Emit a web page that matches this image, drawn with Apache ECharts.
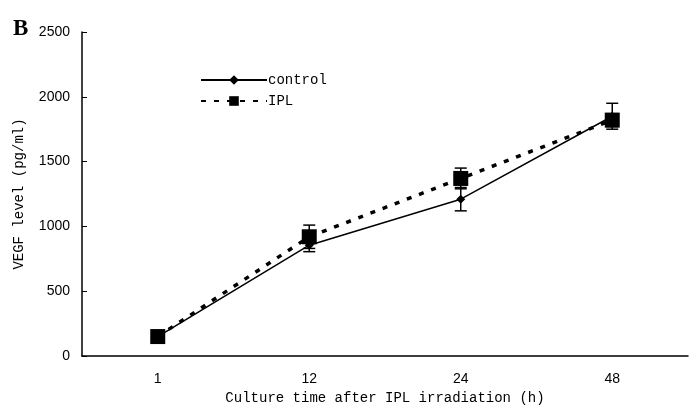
<!DOCTYPE html>
<html>
<head>
<meta charset="utf-8">
<script src="https://cdn.jsdelivr.net/npm/echarts@6/dist/echarts.min.js"></script>
<style>
  html, body { margin: 0; padding: 0; background: #fff; }
  #box { width: 697px; height: 410px; }
</style>
</head>
<body>
<div id="box"></div>
<script>
const aHours = ['1', '12', '24', '48'];
const aControl = [150, 855, 1210, 1850];
const aControlErr = [20, 50, 90, 100];
const aIPL = [150, 920, 1370, 1820];
const aIPLErr = [20, 90, 80, 50];
const aYTicks = [0, 500, 1000, 1500, 2000, 2500];

const sMono = '"Liberation Mono", "DejaVu Sans Mono", monospace';
const sSans = '"Liberation Sans", Arial, sans-serif';

function errData(aVal, aErr){
    return aVal.map((v, i) => [i, v - aErr[i], v + aErr[i]]);
}

function errSeries(name, aVal, aErr){
    return {
        name: name + '_err',
        type: 'custom',
        z: 1,
        silent: true,
        renderItem(params, api){
            const x = api.value(0);
            const pLow = api.coord([x, api.value(1)]);
            const pHigh = api.coord([x, api.value(2)]);
            const cx = pLow[0];
            const half = 6;
            const st = { stroke: '#000', lineWidth: 1.5 };
            return {
                type: 'group',
                children: [
                    { type: 'line', shape: { x1: cx, y1: pLow[1], x2: cx, y2: pHigh[1] }, style: st },
                    { type: 'line', shape: { x1: cx - half, y1: pLow[1], x2: cx + half, y2: pLow[1] }, style: st },
                    { type: 'line', shape: { x1: cx - half, y1: pHigh[1], x2: cx + half, y2: pHigh[1] }, style: st },
                ]
            };
        },
        encode: { x: 0, y: [1, 2] },
        data: errData(aVal, aErr),
    };
}

const myChart = echarts.init(document.getElementById('box'));
myChart.setOption({
    animation: false,
    graphic: [{
        type: 'text', left: 13, top: 18,
        style: { text: 'B', font: 'bold 23px "Liberation Serif", "Times New Roman", serif', fill: '#000' }
    }],
    legend: {
        orient: 'vertical',
        left: 195,
        top: 68,
        itemWidth: 66,
        itemHeight: 12,
        itemGap: 7,
        data: ['control', 'IPL'],
        textStyle: { fontFamily: sMono, fontSize: 14, color: '#000', padding: [0, 0, 0, -4] },
    },
    grid: { left: 82, right: 9, top: 32, bottom: 54 },
    xAxis: {
        type: 'category',
        data: aHours,
        boundaryGap: true,
        name: 'Culture time after IPL irradiation (h)',
        nameLocation: 'middle',
        nameGap: 31,
        nameTextStyle: { fontFamily: sMono, fontSize: 14, color: '#000' },
        axisLine: { lineStyle: { color: '#000', width: 1.5 } },
        axisTick: { inside: true, length: 5, lineStyle: { color: '#000' } },
        axisLabel: { fontFamily: sSans, fontSize: 14, color: '#000', margin: 16 },
    },
    yAxis: {
        type: 'value',
        min: aYTicks[0],
        max: aYTicks[aYTicks.length - 1],
        interval: 500,
        name: 'VEGF level (pg/ml)',
        nameLocation: 'middle',
        nameGap: 56,
        nameTextStyle: { fontFamily: sMono, fontSize: 14, color: '#000' },
        axisLine: { show: true, lineStyle: { color: '#000', width: 1.5 } },
        axisTick: { show: true, inside: true, length: 5, lineStyle: { color: '#000' } },
        splitLine: { show: false },
        axisLabel: { fontFamily: sSans, fontSize: 14, color: '#000', margin: 12, formatter: v => String(v) },
    },
    series: [
        errSeries('control', aControl, aControlErr),
        errSeries('IPL', aIPL, aIPLErr),
        {
            name: 'control',
            type: 'line',
            z: 3,
            data: aControl,
            symbol: 'diamond',
            symbolSize: 9,
            itemStyle: { color: '#000' },
            lineStyle: { color: '#000', width: 1.5 },
        },
        {
            name: 'IPL',
            type: 'line',
            z: 2,
            data: aIPL,
            symbol: 'rect',
            symbolSize: 15,
            itemStyle: { color: '#000' },
            lineStyle: { color: '#000', width: 3.5, type: [5, 8] },
        },
    ],
});
</script>
</body>
</html>
